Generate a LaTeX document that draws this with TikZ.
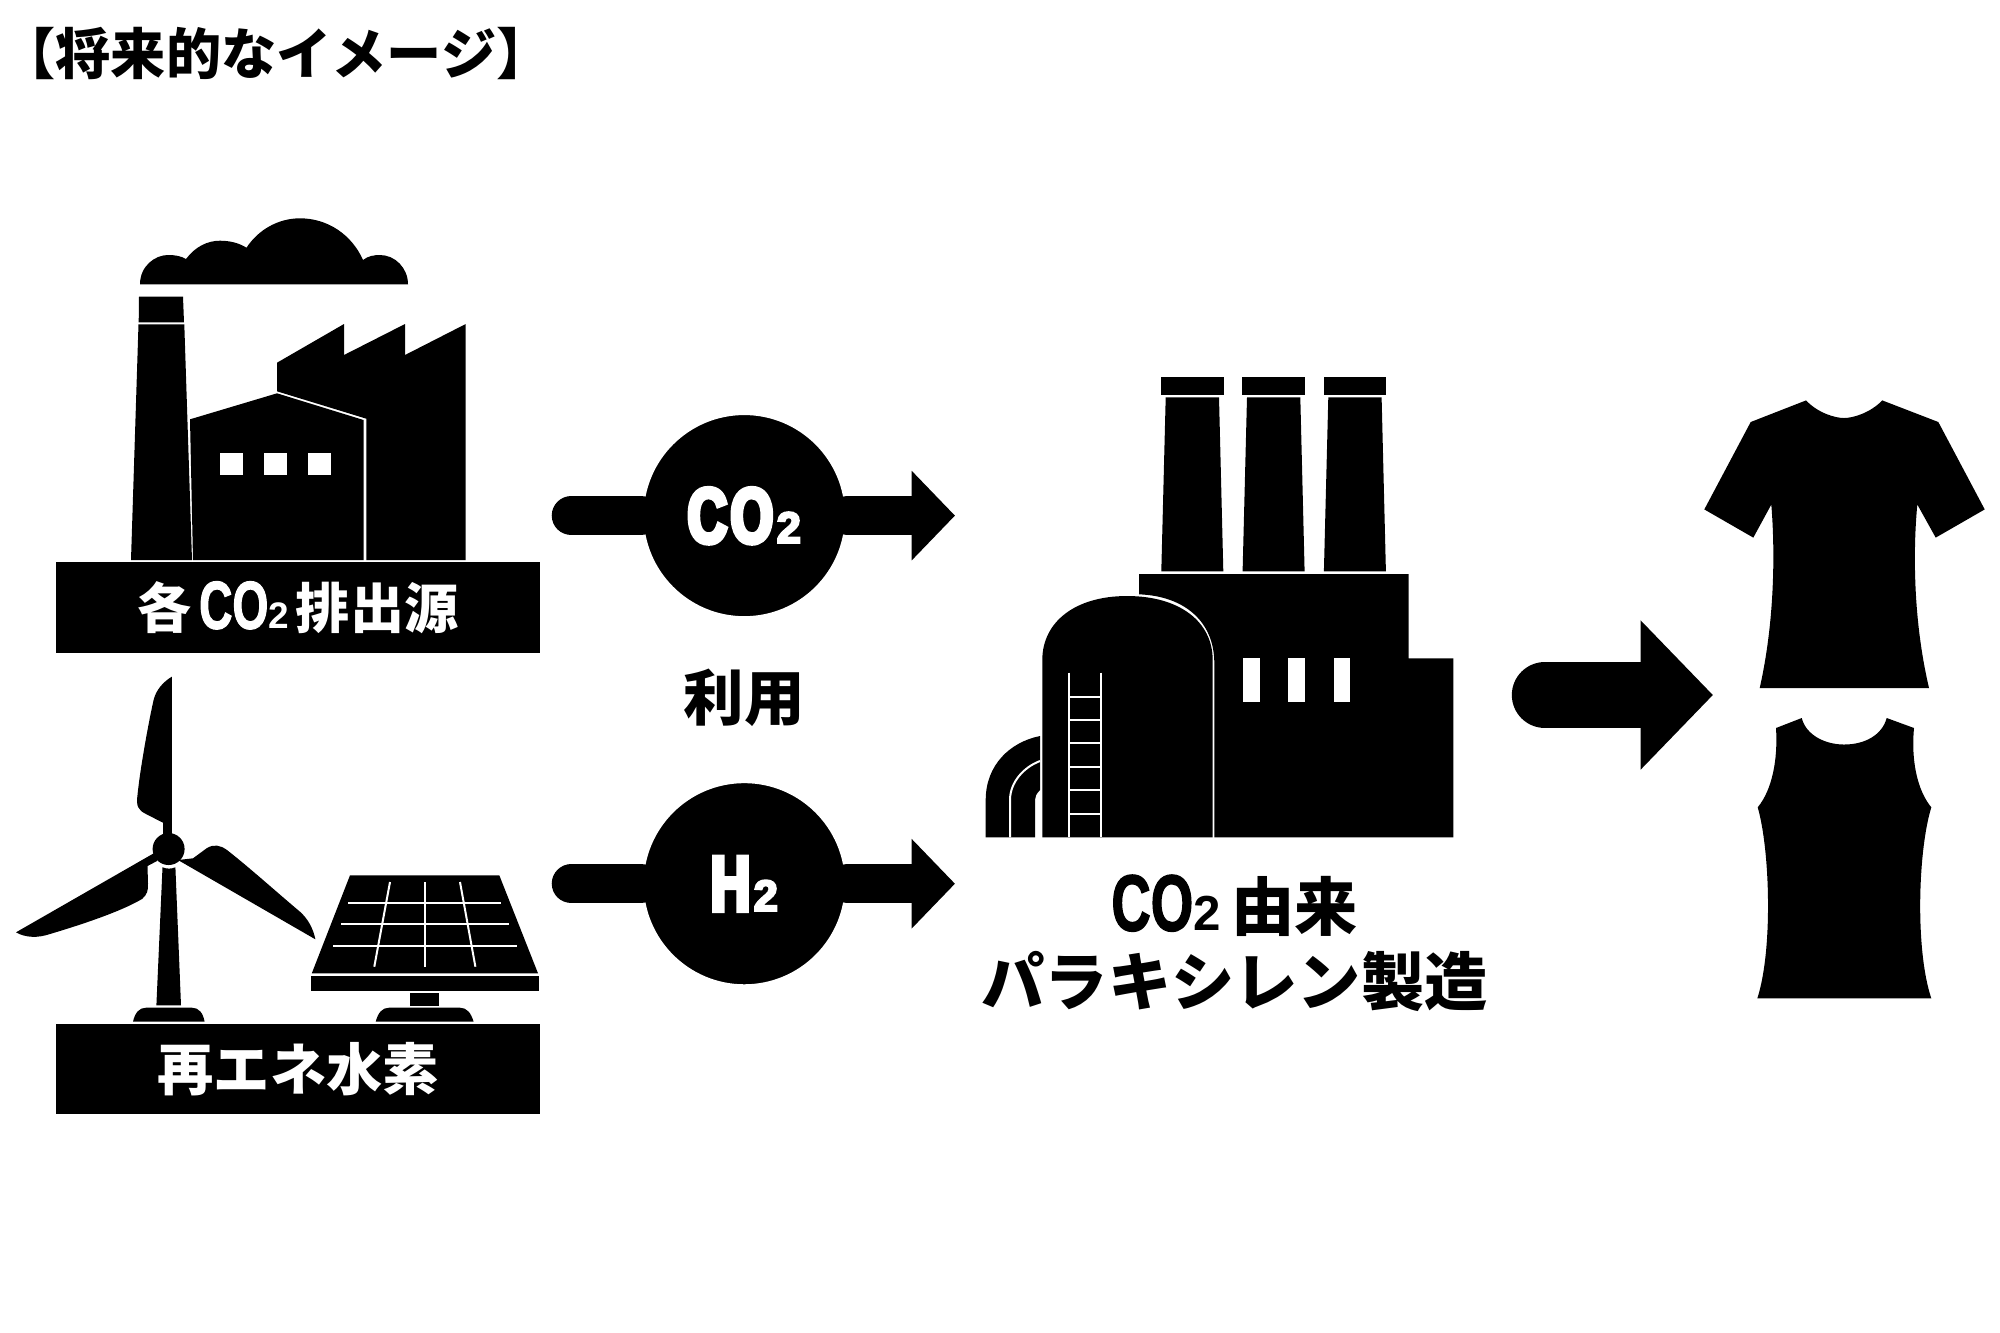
\documentclass[tikz,border=0pt]{standalone}
\usepackage{fontspec}
\setmainfont{Noto Sans CJK JP}
\newfontfamily\condfont[UprightFont={* Bold},FakeStretch=0.68,FakeBold=1.5]{Liberation Sans}
\newfontfamily\plainfont[UprightFont={* Bold}]{Liberation Sans}
\newfontfamily\heavyfont[UprightFont={* Bold},FakeStretch=0.7,FakeBold=6]{Liberation Sans}
\newfontfamily\heavyplain[UprightFont={* Bold},FakeBold=5]{Liberation Sans}
\usetikzlibrary{positioning}
\usetikzlibrary{arrows.meta}
\newcommand{\cotwo}[2]{{\fontsize{#1}{#1}\condfont CO}{\fontsize{#2}{#2}\plainfont 2}}
\newcommand{\heavytwo}[1]{\raisebox{-7.7pt}[0pt][0pt]{{\fontsize{22.2}{22.2}\heavyfont #1}{\kern1pt\fontsize{12.4}{12.4}\heavyplain 2}}}
\newcommand{\jptext}[1]{\fontsize{#1}{#1}\selectfont\bfseries}

\begin{document}
\begin{tikzpicture}[x=0.01cm,y=-0.01cm,
    blk/.style={fill=black},
    gap/.style={draw=white,line width=0.2mm},
    labelbar/.style={fill=black,text=white,minimum width=4.836cm,minimum height=0.907cm,inner sep=0pt},
    gas/.style={circle,fill=black,draw=white,line width=0.3mm,text=white,minimum size=2.04cm,inner sep=0pt},
    thinarrow/.style={line width=0.393cm,line cap=round,-{Triangle[length=0.433cm,width=0.87cm]}},
    thinstub/.style={line width=0.393cm,line cap=round},
    bigarrow/.style={line width=0.663cm,line cap=round,-{Triangle[length=0.724cm,width=1.45cm]}},
    caption/.style={align=center,inner sep=0pt}]
    \useasboundingbox (0,0) rectangle (2000,1332);

    \node (title)[caption] at (276,53) {\jptext{15.7}【将来的なイメージ】};

    % emission source
    \fill[blk] (140,284.3) .. controls (140,266) and (155,255) .. (168,255)
        .. controls (175,255) and (181,256) .. (186,259)
        .. controls (195,247) and (207,240.7) .. (220,240.7)
        .. controls (230,240.7) and (239,243) .. (246.5,247.7)
        .. controls (258,230) and (278,218.3) .. (300,218.3)
        .. controls (328,218.3) and (352,235) .. (363,260)
        .. controls (368,256) and (374,255) .. (380,255)
        .. controls (395,255) and (408,268) .. (408,284.3) -- cycle;
    \fill[blk] (139,296.7) -- (183,296.7) -- (184,322.3) -- (138.7,322.3) -- cycle;
    \fill[blk] (138.5,324.3) -- (184.3,324.3) -- (192,560) -- (131,560) -- cycle;
    \fill[blk] (193,560) -- (190,419.3) -- (277,393.3) -- (363.6,420) -- (363.6,560) -- cycle;
    \fill[blk] (366.4,560) -- (366.4,418.7) -- (277,391.3) -- (277,362.7) -- (344,324) -- (344,355)
        -- (405,324) -- (405,355) -- (465.7,324) -- (465.7,560) -- cycle;
    \foreach \wx in {220,264,308}
        \fill[white] (\wx,452.7) rectangle +(23,22.3);
    \node (sourcebar)[labelbar] at (298.2,607.7) {\raisebox{1.4pt}{\jptext{15.4}各\kern2pt\cotwo{19.3}{10.5}\kern2pt排出源}};

    % renewable hydrogen
    \fill[blk] (162.5,867.3) .. controls (167,869) and (171,869) .. (175.4,867.3) -- (181,1005.3) -- (156.4,1005.3) -- cycle;
    \fill[blk] (133,1021.7) .. controls (135,1013) and (139,1007.7) .. (146,1007.7) -- (192,1007.7)
        .. controls (199,1007.7) and (203,1013) .. (204.6,1021.7) -- cycle;
    \fill[blk] (171.8,676.7) -- (171.8,840) -- (163,840) -- (163,822.7) -- (146,814)
        .. controls (138,810) and (136,806) .. (137.5,795)
        .. controls (140,770) and (148,725) .. (153.6,700)
        .. controls (156,690) and (163,682) .. (171.8,676.7) -- cycle;
    \fill[blk] (315.4,939.3) -- (178,860) -- (193,858.3) -- (207,848)
        .. controls (214,844) and (220,845) .. (227,850)
        .. controls (250,868) and (280,895) .. (300,911.7)
        .. controls (308,919) and (313,928) .. (315.4,939.3) -- cycle;
    \fill[blk] (16,932.3) -- (156,852) -- (157,861) -- (147.5,866) -- (148,883.3)
        .. controls (148.5,890) and (147,895) .. (142,899)
        .. controls (120,912) and (80,925) .. (50,934)
        .. controls (38,938) and (26,938) .. (16,932.3) -- cycle;
    \fill[blk] (168.6,849) circle (16);

    \fill[blk] (350,875.3) -- (499.3,875.3) -- (538,973.3) -- (311.8,973.3) -- cycle;
    \fill[blk] (310.7,976) rectangle (539.3,990.7);
    \fill[blk] (410.4,992.7) rectangle (438.6,1005.7);
    \fill[blk] (375.7,1021.7) .. controls (378,1013) and (382,1007.7) .. (389,1007.7) -- (460,1007.7)
        .. controls (467,1007.7) and (471,1013) .. (473.6,1021.7) -- cycle;
    \draw[gap] (348,902.7) -- (501,902.7);
    \draw[gap] (341,924.3) -- (509,924.3);
    \draw[gap] (333,945.7) -- (516.8,945.7);
    \draw[gap] (390,882) -- (374.3,966.7);
    \draw[gap] (425,882) -- (425,966.7);
    \draw[gap] (460,882) -- (475.4,966.7);
    \node (hydrogenbar)[labelbar] at (298.2,1068.9) {\raisebox{1.4pt}{\jptext{16}再エネ水素}};

    % gases
    \node (cotwogas)[gas] at (744.3,515.6) {\heavytwo{C\kern1pt O}};
    \node (htwogas)[gas] at (744.3,883.7) {\heavytwo{H}};
    \coordinate (cotwostart) at (571.4,515.6);
    \coordinate (cotwotip) at (955,515.6);
    \coordinate (htwostart) at (571.4,883.7);
    \coordinate (htwotip) at (955,883.7);
    \path [thinstub] (cotwostart) edge (cotwogas);
    \path [thinarrow] (cotwogas) edge (cotwotip);
    \path [thinstub] (htwostart) edge (htwogas);
    \path [thinarrow] (htwogas) edge (htwotip);
    \node (usage)[caption] at (744,698) {\jptext{17.2}利用};

    % paraxylene plant
    \foreach \sx in {0,81.3,162.6} {
        \fill[blk] (1161+\sx,377.3) rectangle +(62.7,17.7);
        \fill[blk] (1165.7+\sx,397.3) -- (1219+\sx,397.3) -- (1223.3+\sx,571.3) -- (1161.3+\sx,571.3) -- cycle;
    }
    \fill[blk] (1139,574) -- (1408.7,574) -- (1408.7,658.3) -- (1453.3,658.3) -- (1453.3,837.3)
        -- (1214.3,837.3) -- (1214.3,663) .. controls (1214.3,622) and (1185,596) .. (1139,594.3) -- cycle;
    \fill[blk] (1042.3,837.3) -- (1042.3,660) .. controls (1042.3,622) and (1075,596) .. (1127,596)
        .. controls (1180,596) and (1212.7,622) .. (1212.7,660) -- (1212.7,837.3) -- cycle;
    \foreach \wx in {1243,1288.3,1333.7}
        \fill[white] (\wx,658.3) rectangle +(16.7,43.4);
    \draw[gap] (1069,672.7) -- (1069,837.3);
    \draw[gap] (1101,672.7) -- (1101,837.3);
    \foreach \ry in {696.7,720,743.3,766.7,790.3,814}
        \draw[gap] (1069,\ry) -- (1101,\ry);
    \fill[blk] (985.7,837.3) -- (985.7,800) .. controls (985.7,765) and (1010,742) .. (1040,736)
        -- (1040,790) .. controls (1036,794) and (1035,797) .. (1035,800) -- (1035,837.3) -- cycle;
    \draw[gap] (1010,837.3) -- (1010,800) .. controls (1010,782) and (1024,767) .. (1040,761);
    \node (plant)[caption] at (1234.6,943) {\jptext{18}\cotwo{22.8}{14}\kern3pt 由来\\[3pt]\jptext{18}パラキシレン製造};

    % clothes
    \coordinate (bigstart) at (1545,695);
    \coordinate (bigtip) at (1713,695);
    \path [bigarrow] (bigstart) edge (bigtip);
    \fill[blk] (1806,400.4) .. controls (1818,413) and (1835,418) .. (1844,418)
        .. controls (1853,418) and (1870,413) .. (1882.3,400.4)
        -- (1938.3,422) -- (1984.7,509.4) -- (1935.7,537.6) -- (1917.3,504.5)
        .. controls (1913,550) and (1913,620) .. (1929,688) -- (1759.7,688)
        .. controls (1775,620) and (1775,550) .. (1771.3,504.5)
        -- (1753.3,537.6) -- (1704.3,509.4) -- (1750.7,422) -- cycle;
    \fill[blk] (1801.7,718) .. controls (1806,735) and (1825,744.5) .. (1844,744.5)
        .. controls (1865,744.5) and (1882,735) .. (1886.7,718)
        -- (1914,728) .. controls (1911,760) and (1917,790) .. (1931.3,807.3)
        .. controls (1918,850) and (1915,950) .. (1931.3,998.4) -- (1757.3,998.4)
        .. controls (1773,950) and (1770,850) .. (1757.7,807.3)
        .. controls (1772,790) and (1778,760) .. (1776,728) -- cycle;
\end{tikzpicture}
\end{document}
